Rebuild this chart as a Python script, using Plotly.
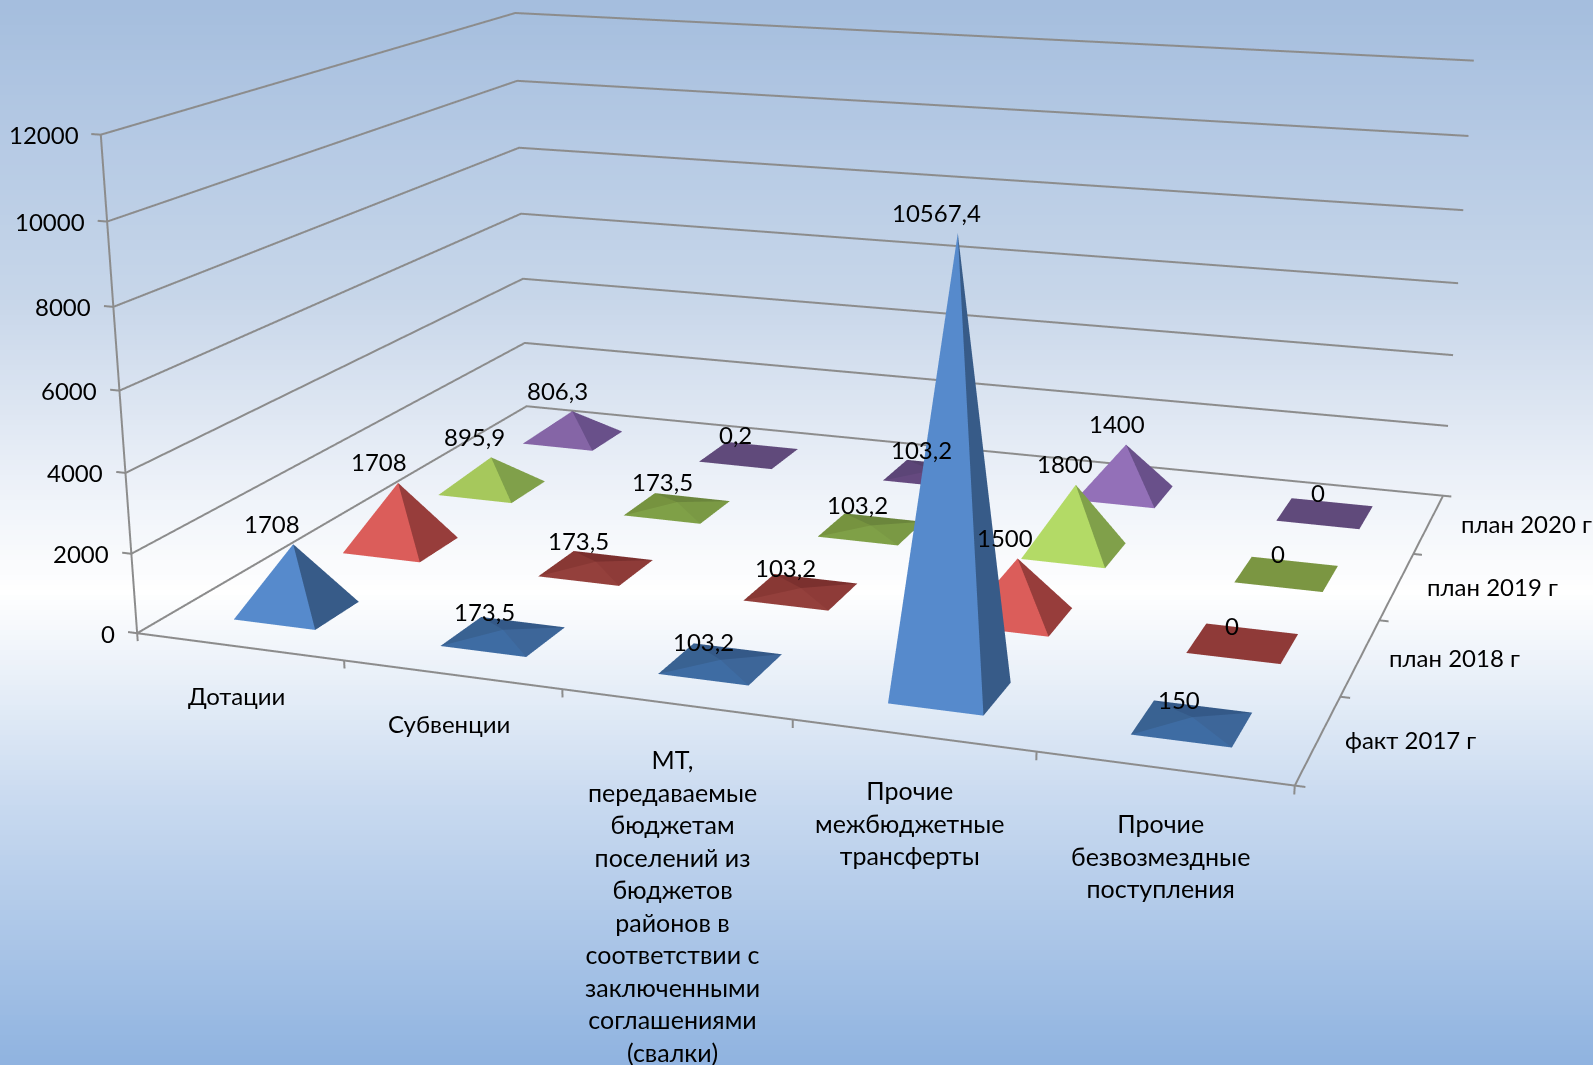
import numpy as np
import plotly.graph_objects as go

categories = ["Дотации", "Субвенции",
              "МТ,<br>передаваемые<br>бюджетам<br>поселений из<br>бюджетов<br>районов в<br>соответствии с<br>заключенными<br>соглашениями<br>(свалки)",
              "Прочие<br>межбюджетные<br>трансферты", "Прочие<br>безвозмездные<br>поступления"]
series_names = ["факт 2017 г", "план 2018 г", "план 2019 г", "план 2020 г"]
fact_2017 = [1708, 173.5, 103.2, 10567.4, 150]
plan_2018 = [1708, 173.5, 103.2, 1500, 0]
plan_2019 = [895.9, 173.5, 103.2, 1800, 0]
plan_2020 = [806.3, 0.2, 103.2, 1400, 0]
series_values = [fact_2017, plan_2018, plan_2019, plan_2020]
z_ticks = [0, 2000, 4000, 6000, 8000, 10000, 12000]

W, H = 1593, 1065
XR = (-0.15, 5.25); YR = (-0.1, 4.3); ZR = (-300.0, 12300.0)
EYE = (0.7632, -2.2611, 0.5794)
CENTER = (-0.0961, 0.1198, -0.2261)
ASPECT = (1.0, 0.8076, 0.41939)
FOVY = 2 * np.arctan(1 / 5.4618)

half = 0.2
front_colors = ["#568ACC", "#DB5D5A", "#B3DA66", "#9370B8"]
mid_colors = ["#568ACC", "#DB5D5A", "#A6C85C", "#8565A6"]
right_colors = ["#375B88", "#973D3B", "#80A04A", "#69508A"]
low_front = ["#3E6CA3", "#94403C", "#7FA047", "#65497F"]
low_right = ["#3D6699", "#8E3B38", "#7A9944", "#604A7B"]
low_back = ["#345988", "#7B302E", "#6B863C", "#54416D"]
low_left = ["#396292", "#883834", "#76933F", "#5C4577"]
flat_colors = ["#3E6A9F", "#8F3A38", "#7B9642", "#604A7B"]

fig = go.Figure()
for j, vals in enumerate(series_values):
    xs, ys, zs, I, J, K, fc = [], [], [], [], [], [], []
    for i, v in enumerate(vals):
        cx, cy = i + 0.5, j + 0.5
        b = len(xs)
        xs += [cx - half, cx + half, cx + half, cx - half, cx]
        ys += [cy - half, cy - half, cy + half, cy + half, cy]
        zs += [0, 0, 0, 0, v]
        if v < 1:
            cols = [flat_colors[j]] * 4
        elif v > 500:
            fr = front_colors[j] if v >= 1000 else mid_colors[j]
            cols = [fr, right_colors[j], right_colors[j], fr]
        else:
            cols = [low_front[j], low_right[j], low_back[j], low_left[j]]
        for k in range(4):
            I.append(b + k); J.append(b + (k + 1) % 4); K.append(b + 4); fc.append(cols[k])
    fig.add_trace(go.Mesh3d(x=xs, y=ys, z=zs, i=I, j=J, k=K, facecolor=fc, flatshading=True,
                            lighting=dict(ambient=1, diffuse=0, specular=0, roughness=1, fresnel=0),
                            name=series_names[j], hoverinfo="skip", showscale=False))

gx, gy, gz = [], [], []
def seg(*pts):
    for q in pts:
        gx.append(q[0]); gy.append(q[1]); gz.append(q[2])
    gx.append(None); gy.append(None); gz.append(None)
for t in z_ticks:
    seg((0, 0, t), (0, 4, t), (5, 4, t))
    seg((-0.045, 0, t), (0, 0, t))
seg((0, 0, 0), (0, 0, z_ticks[-1]))
seg((0, 0, 0), (5, 0, 0), (5, 4, 0))
for i in range(6):
    seg((i, 0, 0), (i, 0, -200))
for j in range(5):
    seg((5, j, 0), (5.04, j, 0))
fig.add_trace(go.Scatter3d(x=gx, y=gy, z=gz, mode="lines", line=dict(color="#8C8C8C", width=4),
                           hoverinfo="skip", showlegend=False))

ann = []
def A(x, y, z, text, xa="center", ya="middle", dx=0, dy=0, size=24):
    ann.append(dict(x=x, y=y, z=z, text=text, showarrow=False, xanchor=xa, yanchor=ya,
                    xshift=dx, yshift=dy, font=dict(family="Lato", size=size, color="black")))
for t in z_ticks:
    A(0, 0, t, str(t), "right", "middle", -20, 0)
for i, c in enumerate(categories):
    multi = "<br>" in c
    A(i + 0.5, 0, 0, c, "center", "top", -3, -38 if multi else -32, 25 if multi else 24)
for j, s in enumerate(series_names):
    A(5, j + 0.5, 0, s, "center", "middle", 92 + 2 * j, 0)
for j, vals in enumerate(series_values):
    for i, v in enumerate(vals):
        dx = -21 + 2 * i + 2 * j
        if v > 10000:
            dx = -21
        dy = 18 if (v < 200 and j == 0) or (i == 4 and j == 1) else 21
        A(i + 0.5, j + 0.5, v, f"{v:g}".replace(".", ","), "center", "middle", dx, dy)

stop_y = [0, 150, 300, 500, 590, 700, 800, 1065]
stop_rgb = [(165, 190, 222), (183, 203, 229), (200, 215, 234), (240, 244, 250), (255, 255, 255),
            (227, 236, 247), (201, 218, 240), (143, 179, 224)]
shapes = []
for y in range(0, H, 5):
    rgb = [np.interp(y, stop_y, [c[k] for c in stop_rgb]) for k in range(3)]
    shapes.append(dict(type="rect", xref="paper", yref="paper", x0=0, x1=1, y0=1 - y / H, y1=1 - (y + 6) / H,
                       fillcolor="rgb(%d,%d,%d)" % tuple(rgb), line=dict(width=0), layer="below"))

ax_off = dict(visible=False, showgrid=False, zeroline=False, showbackground=False, showspikes=False)
fig.update_layout(
    width=W, height=H, margin=dict(l=0, r=0, t=0, b=0), showlegend=False,
    paper_bgcolor="rgba(0,0,0,0)", shapes=shapes,
    scene=dict(domain=dict(x=[0, 1], y=[0, 1]),
               xaxis=dict(range=list(XR), **ax_off), yaxis=dict(range=list(YR), **ax_off), zaxis=dict(range=list(ZR), **ax_off),
               aspectmode="manual", aspectratio=dict(x=ASPECT[0], y=ASPECT[1], z=ASPECT[2]),
               camera=dict(eye=dict(x=EYE[0], y=EYE[1], z=EYE[2]), center=dict(x=CENTER[0], y=CENTER[1], z=CENTER[2]),
                           up=dict(x=0, y=0, z=1), projection=dict(type="perspective")),
               annotations=ann))
post = """
document.body.style.margin='0';
var gd=document.getElementById('{plot_id}');
(function apply(n){
  var s=gd._fullLayout&&gd._fullLayout.scene&&gd._fullLayout.scene._scene;
  if(s&&s.glplot){s.glplot.fovy=%f;s.glplot.redraw();}
  if(n>0)setTimeout(function(){apply(n-1);},50);
})(6);
""" % FOVY
fig.write_html("out.html", post_script=post, config=dict(displayModeBar=False))
